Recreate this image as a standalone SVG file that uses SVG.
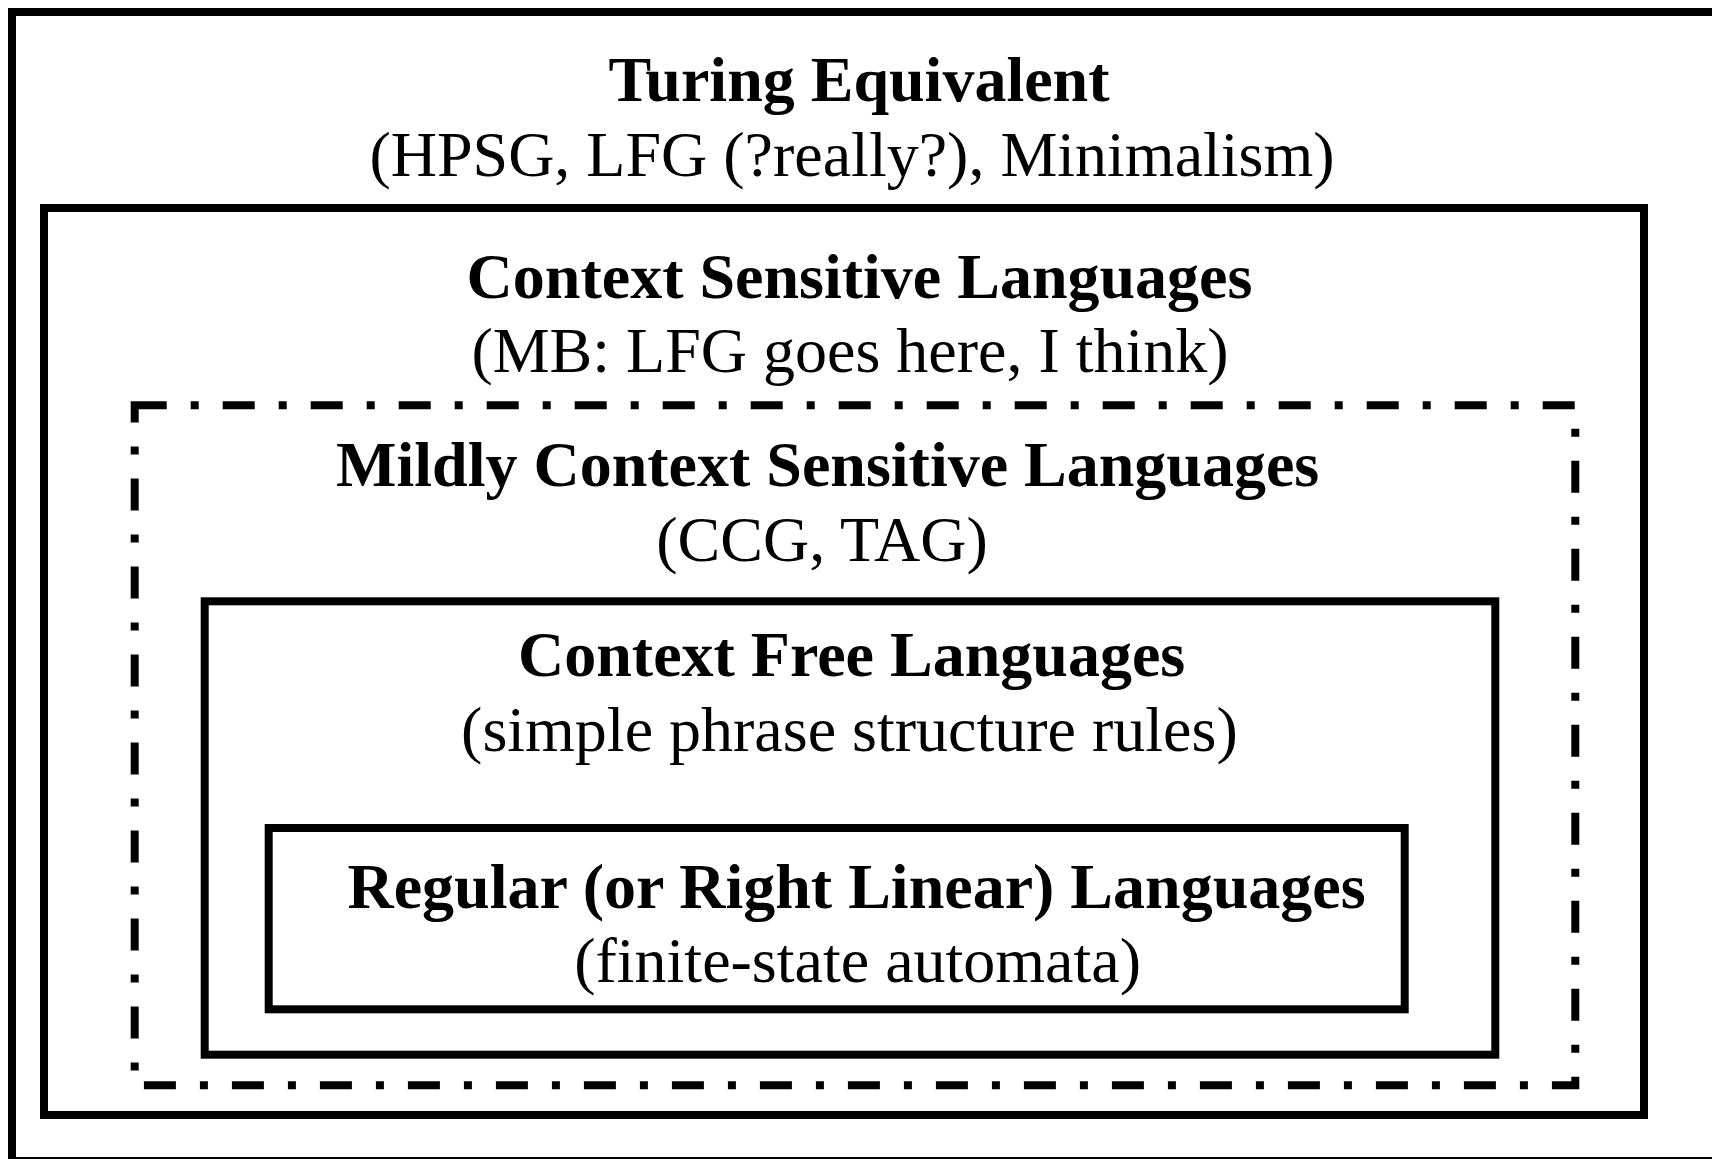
<svg xmlns="http://www.w3.org/2000/svg" width="1712" height="1159" viewBox="0 0 1712 1159">
<style>
.box{fill:none;stroke:#000;stroke-width:8}
.dash{stroke-dasharray:32 24 8 24}
.t{font-family:"Liberation Serif","Times New Roman",serif;font-size:64px;fill:#000;text-anchor:middle}
.b{font-weight:bold}
</style>
<rect width="1712" height="1159" fill="#fff"/>
<g id="turing">
<rect class="box" x="12" y="12" width="1712" height="1149"/>
<text class="t b" x="859" y="101">Turing Equivalent</text>
<text class="t" x="852" y="176">(HPSG, LFG (?really?), Minimalism)</text>
</g>
<g id="context-sensitive">
<rect class="box" x="44" y="208" width="1600" height="907"/>
<text class="t b" x="859.5" y="298">Context Sensitive Languages</text>
<text class="t" x="850" y="372">(MB: LFG goes here, I think)</text>
</g>
<g id="mildly-context-sensitive">
<rect class="box dash" x="134.7" y="405.3" width="1440.6" height="680"/>
<text class="t b" x="827.7" y="486">Mildly Context Sensitive Languages</text>
<text class="t" x="822" y="561">(CCG, TAG)</text>
</g>
<g id="context-free">
<rect class="box" x="204.7" y="601.3" width="1290.6" height="453.4"/>
<text class="t b" x="851.6" y="676">Context Free Languages</text>
<text class="t" x="849.4" y="751">(simple phrase structure rules)</text>
</g>
<g id="regular">
<rect class="box" x="268.7" y="828" width="1136" height="181.3"/>
<text class="t b" x="856.5" y="908">Regular (or Right Linear) Languages</text>
<text class="t" x="857.6" y="982">(finite-state automata)</text>
</g>
<g id="connectors"></g>
</svg>
